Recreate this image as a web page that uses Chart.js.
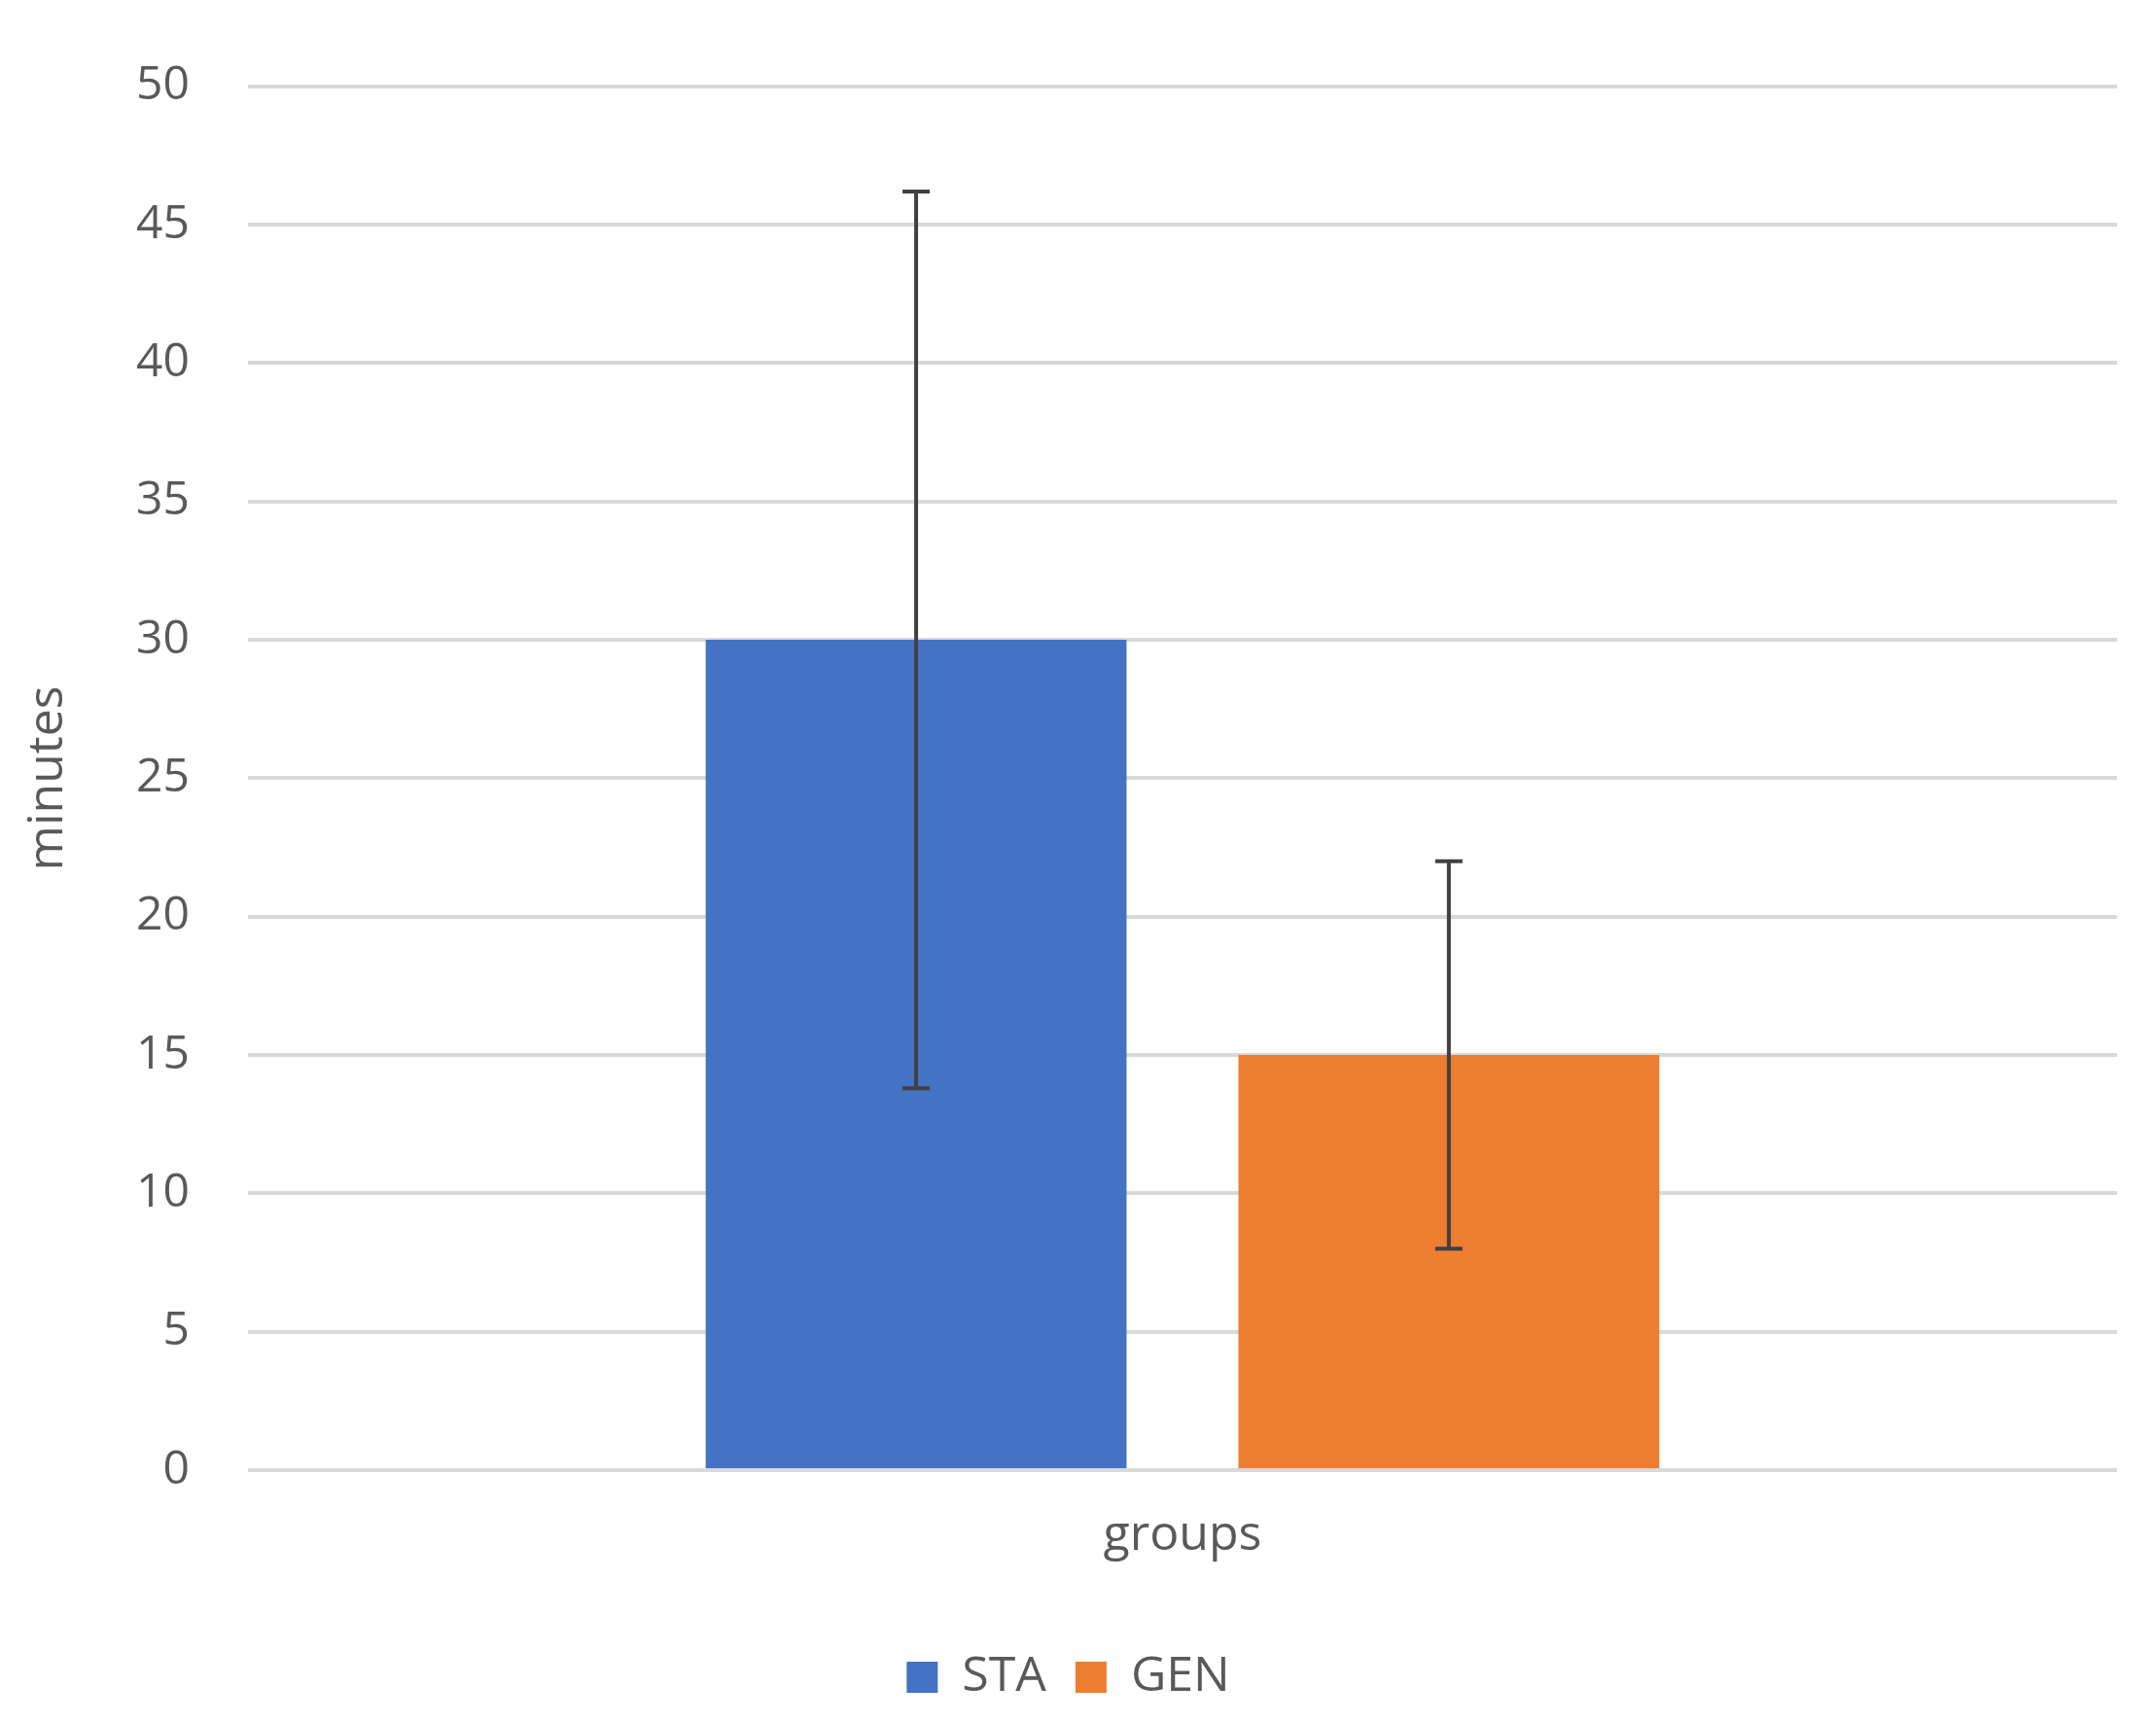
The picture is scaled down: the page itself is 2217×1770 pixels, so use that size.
<!DOCTYPE html>
<html>
<head>
<meta charset="utf-8">
<script src="https://cdn.jsdelivr.net/npm/chart.js@4"></script>
<style>
  html, body { margin: 0; background: #fff; }
  #wrap { width: 2217px; height: 1770px; }
</style>
</head>
<body>
<div id="wrap"><canvas id="chart"></canvas></div>
<script>
const categories = ['groups'];
const seriesNames = ['STA', 'GEN'];
const seriesValues = [[30], [15]];
const errLow = [[13.8], [8]];
const errHigh = [[46.2], [22]];
const colors = ['#4472C4', '#ED7D31'];

// draws the error whiskers on top of each bar
const errorBars = {
    id: 'errorBars',
    afterDatasetsDraw(chart) {
        const ctx = chart.ctx;
        const y = chart.scales.y;
        ctx.save();
        ctx.strokeStyle = '#404040';
        ctx.lineWidth = 4;
        chart.data.datasets.forEach((ds, i) => {
            chart.getDatasetMeta(i).data.forEach((bar, j) => {
                const x = bar.x;
                const top = y.getPixelForValue(errHigh[i][j]);
                const bot = y.getPixelForValue(errLow[i][j]);
                ctx.beginPath();
                ctx.moveTo(x, top); ctx.lineTo(x, bot);
                ctx.moveTo(x - 14, top); ctx.lineTo(x + 14, top);
                ctx.moveTo(x - 14, bot); ctx.lineTo(x + 14, bot);
                ctx.stroke();
            });
        });
        ctx.restore();
    }
};

new Chart(document.getElementById('chart'), {
    type: 'bar',
    data: {
        labels: categories,
        datasets: seriesNames.map((name, i) => ({
            label: name,
            data: seriesValues[i],
            backgroundColor: colors[i],
            categoryPercentage: 0.57,
            barPercentage: 0.79,
        })),
    },
    options: {
        responsive: true,
        maintainAspectRatio: false,
        animation: false,
        layout: { padding: { top: 40, right: 40, left: 20, bottom: 10 } },
        plugins: {
            legend: {
                position: 'bottom',
                labels: {
                    color: '#595959',
                    font: { size: 50, family: 'Open Sans' },
                    boxWidth: 32, boxHeight: 32, padding: 30,
                },
            },
            tooltip: { enabled: false },
        },
        scales: {
            x: {
                grid: { display: false },
                border: { display: false },
                ticks: { display: false },
                title: {
                    display: true, text: 'groups', color: '#595959',
                    font: { size: 50, family: 'Open Sans' }, padding: { top: 30, bottom: 60 },
                },
            },
            y: {
                min: 0, max: 50,
                ticks: {
                    stepSize: 5, color: '#595959', padding: 60,
                    font: { size: 48, family: 'Open Sans' },
                },
                grid: { color: '#d9d9d9', lineWidth: 4, drawTicks: false },
                border: { display: false },
                title: {
                    display: true, text: 'minutes', color: '#595959',
                    font: { size: 50, family: 'Open Sans' }, padding: 0,
                },
            },
        },
    },
    plugins: [errorBars],
});
</script>
</body>
</html>
